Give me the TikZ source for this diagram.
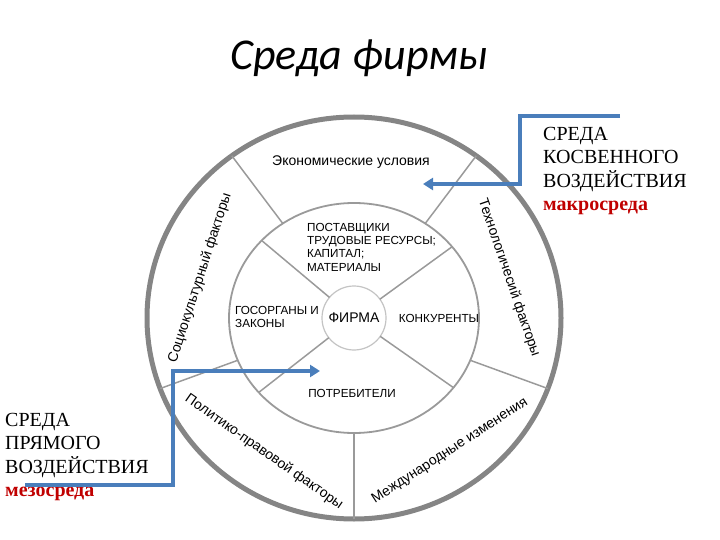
\documentclass[tikz,border=0pt]{standalone}
\usepackage{fontspec}
\setmainfont{Liberation Serif}
\setsansfont{Liberation Sans}
\newfontfamily\titlefont{Carlito}
\usepackage{tikz}
\usetikzlibrary{shapes.geometric, arrows.meta, positioning}
\definecolor{ringgray}{HTML}{858585}
\definecolor{spokegray}{HTML}{9A9A9A}
\definecolor{firmgray}{HTML}{C4C4C4}
\definecolor{arrowblue}{HTML}{4A7EBB}
\definecolor{envred}{HTML}{C00000}

\begin{document}
\begin{tikzpicture}[
    x=1pt, y=-1pt,
    ring/.style={ellipse, draw=#1, outer sep=0pt, inner sep=0pt},
    spoke/.style={draw=spokegray, line width=1.5pt},
    sector/.style={font=\sffamily\fontsize{14}{16}\selectfont, inner sep=0pt},
    inlabel/.style={font=\sffamily\fontsize{11.7}{13.3}\selectfont, align=left, inner sep=0pt},
    side/.style={font=\fontsize{20}{23.5}\selectfont, align=left, inner sep=0pt, anchor=north west},
    arrow/.style={-{Triangle[length=10pt, width=12pt]}, line width=3.5pt, color=arrowblue}
]
\useasboundingbox (0,0) rectangle (720,540);

% Title
\node[font=\titlefont\itshape\fontsize{44}{52}\selectfont] (title) at (359,58) {Среда фирмы};

% Rings
\coordinate (hub) at (354,318);
\node[ring=ringgray, line width=5pt, minimum width=414, minimum height=402] (outer) at (hub) {};
\node[ring=spokegray, line width=1.8pt, minimum width=250, minimum height=230] (middle) at (hub) {};
\node[ring=firmgray, circle, line width=1.2pt, minimum size=64, fill=white,
      font=\sffamily\fontsize{14}{16}\selectfont] (firm) at (hub) {ФИРМА};

% Spokes, inner ring
\draw[spoke] (firm.140) -- (middle.140);
\draw[spoke] (firm.36) -- (middle.36);
\draw[spoke] (firm.-35) -- (middle.-35);
\draw[spoke] (firm.-142) -- (middle.-142);

% Spokes, outer ring
\draw[spoke] (middle.127) -- (outer.127);
\draw[spoke] (middle.53) -- (outer.53);
\draw[spoke] (middle.-20) -- (outer.-20);
\draw[spoke] (middle.-90) -- (outer.-90);
\draw[spoke] (middle.-160) -- (outer.-160);

% Macro environment
\node[sector] (econ) at (351,162) {Экономические условия};
\node[sector, rotate=72] (socio) at (200,278) {Социокультурный факторы};
\node[sector, rotate=-71] (techno) at (509,278) {Технологичесий факторы};
\node[sector, rotate=-35] (polit) at (264,452) {Политико-правовой факторы};
\node[sector, rotate=33] (intl) at (450,451) {Международные изменения};

% Micro environment
\node[inlabel, anchor=north west] (suppliers) at (307,223) {ПОСТАВЩИКИ\\ТРУДОВЫЕ РЕСУРСЫ;\\КАПИТАЛ;\\МАТЕРИАЛЫ};
\node[inlabel, anchor=north west] (gov) at (235,306) {ГОСОРГАНЫ И\\ЗАКОНЫ};
\node[inlabel] (rivals) at (439,318) {КОНКУРЕНТЫ};
\node[inlabel] (clients) at (352,393) {ПОТРЕБИТЕЛИ};

% Side labels
\node[side] (macro) at (543,127) {СРЕДА\\КОСВЕННОГО\\ВОЗДЕЙСТВИЯ\\{\color{envred}\bfseries макросреда}};
\node[side] (meso) at (5,413) {СРЕДА\\ПРЯМОГО\\ВОЗДЕЙСТВИЯ\\{\color{envred}\bfseries мезосреда}};

% Pointers
\coordinate (macrostart) at (620,116);
\coordinate (macrobend) at (520,116);
\coordinate (macroend) at (423,184);
\coordinate (mesostart) at (25,485);
\coordinate (mesobend) at (173,485);
\coordinate (mesoend) at (320,371);

\draw[arrow] (macrostart) -- (macrobend) |- (macroend);
\draw[arrow] (mesostart) -- (mesobend) |- (mesoend);

\end{tikzpicture}
\end{document}
